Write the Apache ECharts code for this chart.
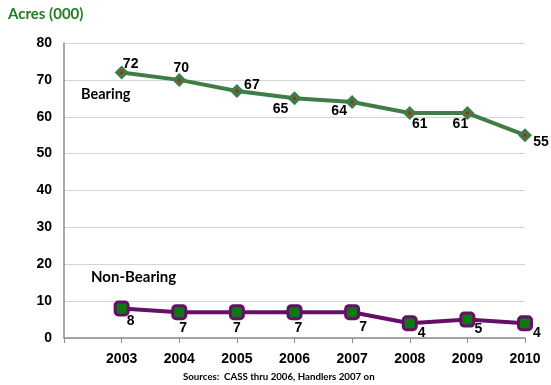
<!DOCTYPE html>
<html><head><meta charset="utf-8">
<script src="https://cdn.jsdelivr.net/npm/echarts@6/dist/echarts.min.js"></script>
<style>html,body{margin:0;padding:0;background:#fff}#c{width:551px;height:385px}</style>
</head><body><div id="c"></div>
<script>
const years = [2003, 2004, 2005, 2006, 2007, 2008, 2009, 2010];
const bearing = [72, 70, 67, 65, 64, 61, 61, 55];
const nonBearing = [8, 7, 7, 7, 7, 4, 5, 4];
const yTicks = [0, 10, 20, 30, 40, 50, 60, 70, 80];

const bearingOffsets = [[9,-8],[2,-12],[15,-6],[-14,11],[-13,9],[10,11],[-7,11],[16,7]];
const nonOffsets = [[9,13],[4,16],[0,16],[4,16],[11,15],[12,10],[11,10],[12,10]];

function pts(vals, offs) {
  return vals.map((v, i) => ({
    value: [years[i], v],
    label: { offset: offs[i] }
  }));
}
const lblBase = { show: true, position: 'inside', color: '#000', fontFamily: 'Liberation Sans', fontWeight: 'bold', fontSize: 14,
  formatter: p => p.value[1] };

const chart = echarts.init(document.getElementById('c'), null, { renderer: 'canvas' });
chart.setOption({
  animation: false,
  grid: { left: 64, right: 26, top: 43, bottom: 47 },
  xAxis: {
    type: 'value', min: years[0] - 1, max: years[years.length - 1], interval: 1,
    axisLine: { show: true, lineStyle: { color: '#8c8c8c', width: 1.5 } },
    axisTick: { show: true, length: 5, lineStyle: { color: '#8c8c8c' } },
    splitLine: { show: false },
    axisLabel: { margin: 14, color: '#000', fontFamily: 'Liberation Sans', fontWeight: 'bold', fontSize: 14,
      formatter: v => years.indexOf(v) >= 0 ? String(v) : '' }
  },
  yAxis: {
    type: 'value', min: yTicks[0], max: yTicks[yTicks.length - 1], interval: 10,
    axisLine: { show: true, lineStyle: { color: '#8c8c8c', width: 1.5 } },
    axisTick: { show: false },
    splitLine: { show: true, lineStyle: { color: '#d4d4d4', width: 1 } },
    axisLabel: { margin: 12, color: '#000', fontFamily: 'Liberation Sans', fontWeight: 'bold', fontSize: 14 }
  },
  series: [
    {
      type: 'line', data: pts(bearing, bearingOffsets),
      lineStyle: { color: '#3f7d46', width: 4 },
      symbol: 'diamond', symbolSize: 14,
      itemStyle: { color: '#3f7d46' },
      label: lblBase, z: 3
    },
    {
      type: 'scatter', data: bearing.map((v, i) => [years[i], v]),
      symbol: 'circle', symbolSize: 3, itemStyle: { color: '#e00000' }, silent: true, z: 4
    },
    {
      type: 'line', data: pts(nonBearing, nonOffsets),
      lineStyle: { color: '#650f68', width: 4 },
      symbol: 'roundRect', symbolSize: 13,
      itemStyle: { color: '#0a7a10', borderColor: '#650f68', borderWidth: 3 },
      label: lblBase, z: 3
    }
  ],
  graphic: [
    { type: 'text', left: 8, top: 7, style: { text: 'Acres (000)', fill: '#237b23', font: 'bold 15px Lato' } },
    { type: 'text', left: 81, top: 87, style: { text: 'Bearing', fill: '#000', font: 'bold 14.5px Lato' } },
    { type: 'text', left: 91, top: 270, style: { text: 'Non-Bearing', fill: '#000', font: 'bold 15px Lato' } },
    { type: 'text', left: 183, top: 372, style: { text: 'Sources:  CASS thru 2006, Handlers 2007 on', fill: '#000', font: 'bold 9.7px Lato' } }
  ]
});
</script></body></html>
